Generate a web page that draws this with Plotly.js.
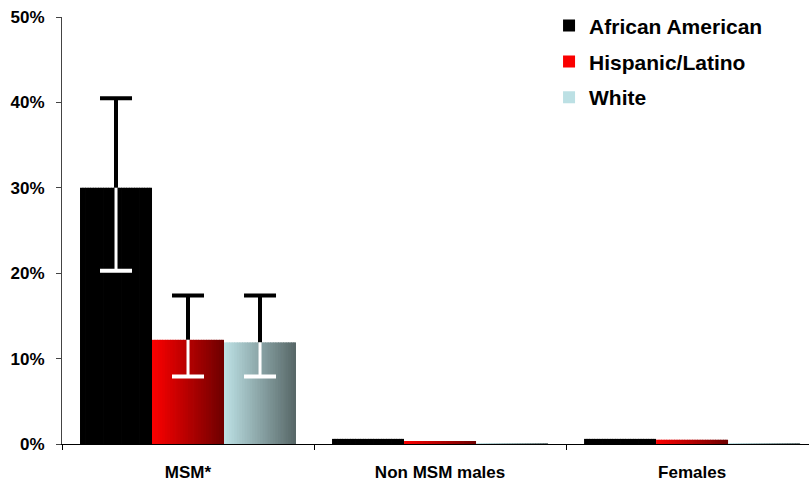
<!DOCTYPE html>
<html>
<head>
<meta charset="utf-8">
<script src="https://cdn.plot.ly/plotly-3.0.1.min.js"></script>
<style>html,body{margin:0;padding:0;background:#fff;}#chart{width:809px;height:483px;}</style>
</head>
<body>
<div id="chart"></div>
<script>
// ---- data ----
const categories = ['MSM*', 'Non MSM males', 'Females'];
const seriesNames = ['African American', 'Hispanic/Latino', 'White'];
const aaValues = [30.0, 0.6, 0.6];
const hlValues = [12.2, 0.35, 0.5];
const whValues = [11.9, 0.1, 0.1];
const aaLow = [20.3, null, null];
const aaHigh = [40.5, null, null];
const hlLow = [7.9, null, null];
const hlHigh = [17.4, null, null];
const whLow = [7.9, null, null];
const whHigh = [17.4, null, null];

// ---- styling ----
const FONT = 'Liberation Sans, Arial, sans-serif';
const barW = 0.2857;
const N = 28;
function lerp(a, b, t) { return Math.round(a + (b - a) * t); }
function mix(c1, c2, t) { return 'rgb(' + lerp(c1[0], c2[0], t) + ',' + lerp(c1[1], c2[1], t) + ',' + lerp(c1[2], c2[2], t) + ')'; }

const series = [
  {name: seriesNames[0], y: aaValues, lo: aaLow, hi: aaHigh, c1: [0,0,0], c2: [0,0,0], off: -1.5 * barW},
  {name: seriesNames[1], y: hlValues, lo: hlLow, hi: hlHigh, c1: [250,0,0], c2: [112,0,0], off: -0.5 * barW},
  {name: seriesNames[2], y: whValues, lo: whLow, hi: whHigh, c1: [188,224,228], c2: [88,104,104], off: 0.5 * barW}
];

const traces = [];
series.forEach((s, si) => {
  for (let k = 0; k < N; k++) {
    const t = N === 1 ? 0 : k / (N - 1);
    traces.push({
      type: 'bar', x: categories, y: s.y, name: s.name,
      legendgroup: 'g' + si, showlegend: k === 0,
      offset: s.off + k * barW / N,
      width: (k === N - 1) ? barW / N : barW / N * 1.3,
      marker: {color: mix(s.c1, s.c2, t), line: {width: 0}},
      hoverinfo: 'skip'
    });
  }
});

function ghost(y, err, color, thick, capw) {
  return {
    type: 'bar', x: categories, y: y, showlegend: false, offset: 0, width: barW,
    marker: {color: 'rgba(0,0,0,0)', line: {width: 0}}, hoverinfo: 'skip',
    error_y: Object.assign({type: 'data', color: color, thickness: thick, width: capw}, err)
  };
}
// error bars: black upper part (stem + cap), white lower part (stem + cap)
series.forEach((s) => {
  const up = s.y.map((v, i) => s.hi[i] == null ? null : s.hi[i] - v);
  const dn = s.y.map((v, i) => s.lo[i] == null ? null : v - s.lo[i]);
  const zeros = s.y.map(() => 0);
  const g = [
    ghost(s.y, {symmetric: false, array: up, arrayminus: []}, '#000', 4, 0),
    ghost(s.hi, {symmetric: true, array: zeros}, '#000', 4, 16),
    ghost(s.y, {symmetric: false, array: [], arrayminus: dn}, '#fff', 3, 0),
    ghost(s.lo, {symmetric: true, array: zeros}, '#fff', 4, 16)
  ];
  g.forEach(tr => { tr.offset = s.off; traces.push(tr); });
});

const layout = {
  width: 809, height: 483,
  margin: {l: 62, r: 0, t: 17, b: 39},
  paper_bgcolor: '#fff', plot_bgcolor: '#fff',
  barmode: 'overlay',
  showlegend: true,
  font: {family: FONT, color: '#000'},
  xaxis: {
    type: 'category', range: [-0.5, 2.464],
    tickson: 'boundaries', ticks: 'outside', ticklen: 5, tickcolor: '#000',
    showline: true, linecolor: '#000', linewidth: 1, showgrid: false,
    tickfont: {family: FONT, size: 17, weight: 'bold', color: '#000'},
    ticklabelstandoff: 13
  },
  yaxis: {
    range: [0, 50], dtick: 10, ticksuffix: '%',
    ticks: 'outside', ticklen: 5, tickcolor: '#444',
    showline: true, linecolor: '#444', linewidth: 1, showgrid: false, zeroline: false,
    tickfont: {family: FONT, size: 17, weight: 'bold', color: '#000'},
    ticklabelstandoff: 8
  },
  legend: {
    x: 0.652, y: 1.027, xanchor: 'left', yanchor: 'top',
    bgcolor: 'rgba(0,0,0,0)', traceorder: 'grouped', tracegroupgap: 5.5,
    font: {family: FONT, size: 21, weight: 'bold', color: '#000'}
  }
};

Plotly.newPlot('chart', traces, layout, {displayModeBar: false, staticPlot: true});
</script>
</body>
</html>
